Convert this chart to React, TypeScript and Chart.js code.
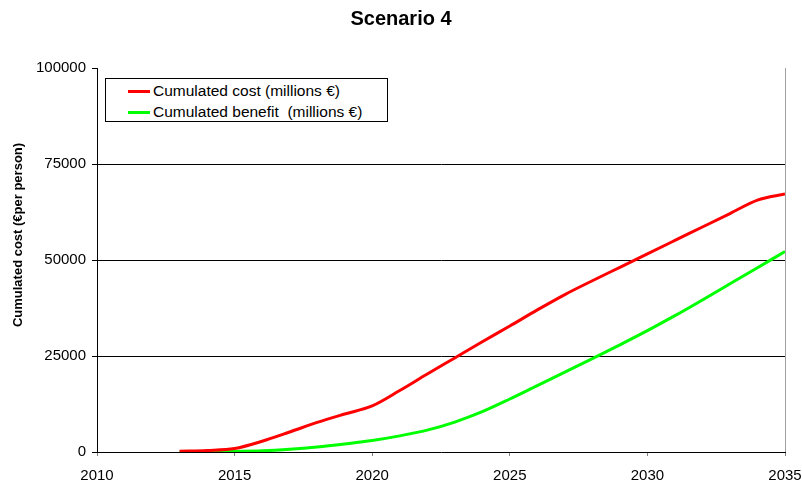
import React, { useEffect, useRef } from "react";
import { Chart, registerables } from "chart.js";

Chart.register(...registerables);

const years = [2013, 2014, 2015, 2016, 2017, 2018, 2019, 2020, 2021, 2022, 2023, 2024, 2025, 2026, 2027, 2028, 2029, 2030, 2031, 2032, 2033, 2034, 2035];
const cumulatedCost = [200, 400, 900, 2800, 5200, 7700, 9900, 12000, 16000, 20300, 24500, 28700, 32800, 37000, 41000, 44600, 48100, 51600, 55100, 58600, 62100, 65600, 67200];
const cumulatedBenefit = [0, 50, 150, 300, 700, 1300, 2100, 3000, 4200, 5700, 7800, 10500, 13800, 17300, 20800, 24300, 27900, 31600, 35500, 39600, 43800, 48000, 52200];
const yTicks = [0, 25000, 50000, 75000, 100000];
const xTicks = [2010, 2015, 2020, 2025, 2030, 2035];
const seriesLabels = ["Cumulated cost (millions €)", "Cumulated benefit  (millions €)"];
const seriesColors = ["#FF0000", "#00FF00"];
const yAxisTitle = "Cumulated cost (€per person)";

const FONT = '"Liberation Sans", Arial, Helvetica, sans-serif';

const extras = {
  id: "extras",
  afterDraw(chart: any) {
    const { ctx, chartArea } = chart;
    ctx.save();
    ctx.strokeStyle = "#a0a0a0";
    ctx.lineWidth = 1;
    ctx.beginPath();
    ctx.moveTo(Math.round(chartArea.right) + 0.5, chartArea.top);
    ctx.lineTo(Math.round(chartArea.right) + 0.5, chartArea.bottom);
    ctx.stroke();
    ctx.translate(18, 235);
    ctx.rotate(-Math.PI / 2);
    ctx.fillStyle = "#000";
    ctx.font = `bold 13px ${FONT}`;
    ctx.textAlign = "center";
    ctx.textBaseline = "middle";
    ctx.fillText(yAxisTitle, 0, 0);
    ctx.restore();
  },
};

export default function App() {
  const ref = useRef<HTMLCanvasElement>(null);

  useEffect(() => {
    if (!ref.current) return;
    const chart = new Chart(ref.current, {
      type: "line",
      data: {
        datasets: [
          {
            label: seriesLabels[0],
            data: years.map((y, i) => ({ x: y, y: cumulatedCost[i] })),
            borderColor: seriesColors[0],
            backgroundColor: seriesColors[0],
            borderWidth: 3,
            pointRadius: 0,
            cubicInterpolationMode: "monotone",
          },
          {
            label: seriesLabels[1],
            data: years.map((y, i) => ({ x: y, y: cumulatedBenefit[i] })),
            borderColor: seriesColors[1],
            backgroundColor: seriesColors[1],
            borderWidth: 3,
            pointRadius: 0,
            cubicInterpolationMode: "monotone",
          },
        ],
      },
      options: {
        animation: false,
        responsive: false,
        maintainAspectRatio: false,
        layout: { padding: { left: 0, right: 0, top: 0, bottom: 0 } },
        plugins: {
          legend: { display: false },
          tooltip: { enabled: false },
          title: {
            display: true,
            text: "Scenario 4",
            color: "#000",
            font: { family: FONT, size: 20, weight: "bold" },
            padding: { top: 7, bottom: 37 },
          },
        },
        scales: {
          x: {
            type: "linear",
            min: xTicks[0],
            max: xTicks[xTicks.length - 1],
            afterBuildTicks: (scale: any) => {
              scale.ticks = xTicks.map((v) => ({ value: v }));
            },
            afterFit: (scale: any) => {
              scale.height = 34;
              scale.paddingRight = 17;
              scale.paddingLeft = 17;
            },
            ticks: {
              color: "#000",
              font: { family: FONT, size: 15 },
              padding: 11,
              maxRotation: 0,
              callback: (v: any) => String(v),
            },
            grid: {
              drawOnChartArea: false,
              drawTicks: true,
              tickLength: 4,
              tickColor: "#808080",
            },
            border: { color: "#000", width: 1 },
          },
          y: {
            type: "linear",
            min: yTicks[0],
            max: yTicks[yTicks.length - 1],
            afterBuildTicks: (scale: any) => {
              scale.ticks = yTicks.map((v) => ({ value: v }));
            },
            afterFit: (scale: any) => {
              scale.width = 97;
            },
            ticks: {
              color: "#000",
              font: { family: FONT, size: 15 },
              padding: 6,
              callback: (v: any) => String(v),
            },
            grid: {
              color: (c: any) => (c.tick && (c.tick.value === 100000 || c.tick.value === 0) ? "rgba(0,0,0,0)" : "#000"),
              tickColor: "#000",
              tickLength: 5,
              lineWidth: 1,
            },
            border: { color: "#000", width: 1 },
          },
        },
      },
      plugins: [extras],
    });
    return () => chart.destroy();
  }, []);

  return (
    <div style={{ position: "absolute", left: 0, top: 0, width: 802, height: 486, background: "#fff" }}>
      <canvas ref={ref} width={802} height={486} style={{ width: 802, height: 486, display: "block" }} />
      <div
        style={{
          position: "absolute",
          left: 105,
          top: 78,
          width: 281,
          height: 42,
          border: "1px solid #000",
          background: "#fff",
          fontFamily: FONT,
          fontSize: 15.5,
          color: "#000",
        }}
      >
        {seriesLabels.map((label, i) => (
          <div
            key={label}
            style={{
              position: "absolute",
              left: 0,
              top: i === 0 ? 2 : 23,
              height: 20,
              display: "flex",
              alignItems: "center",
              whiteSpace: "pre",
            }}
          >
            <span style={{ display: "inline-block", marginLeft: 22, width: 22, height: 3, background: seriesColors[i] }} />
            <span style={{ marginLeft: 3 }}>{label}</span>
          </div>
        ))}
      </div>
    </div>
  );
}
